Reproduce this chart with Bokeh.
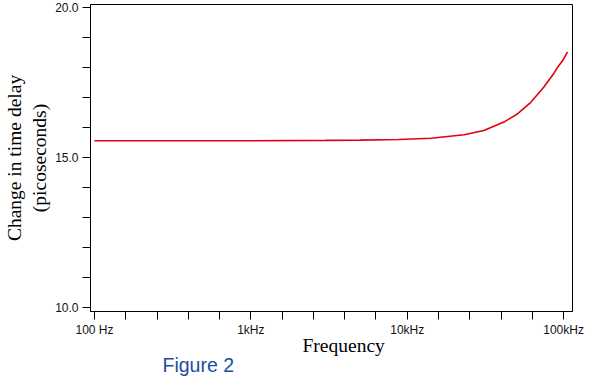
from bokeh.plotting import figure
from bokeh.models import Range1d, FixedTicker, NumeralTickFormatter, Title
from bokeh.embed import file_html
from bokeh.resources import INLINE

# ---- data ----
freq_hz = [100, 300, 1000, 3000, 5000, 8800, 14200, 23100, 30900, 41500,
           50900, 61700, 74600, 86300, 91600, 98600, 106000]
delay_ps = [15.56, 15.56, 15.56, 15.57, 15.58, 15.60, 15.64, 15.76, 15.90, 16.18,
            16.46, 16.84, 17.34, 17.79, 18.01, 18.23, 18.52]

x_major = [100, 1000, 10000, 100000]
x_labels = ["100 Hz", "1kHz", "10kHz", "100kHz"]
x_minor = [10 ** (2 + k / 5) for k in range(16) if k % 5 != 0]
y_major = [10, 15, 20]
y_minor = [11, 12, 13, 14, 16, 17, 18, 19]

W, H = 596, 382
p = figure(width=W, height=H, x_axis_type="log",
           x_range=Range1d(94.3, 114000), y_range=Range1d(9.867, 20.1),
           output_backend="svg", toolbar_location=None,
           min_border_left=88, min_border_right=24, min_border_top=4, min_border_bottom=71)
p.background_fill_color = "white"
p.border_fill_color = "white"
p.outline_line_color = "black"
p.outline_line_width = 1
p.xgrid.visible = False
p.ygrid.visible = False

p.line(freq_hz, delay_ps, line_color="#e00010", line_width=1.6)

for ax in (p.xaxis[0], p.yaxis[0]):
    ax.major_tick_out = 8
    ax.major_tick_in = 0
    ax.minor_tick_out = 8
    ax.minor_tick_in = 0
    ax.axis_line_color = "black"
    ax.major_tick_line_color = "black"
    ax.minor_tick_line_color = "black"
    ax.major_label_text_font = "Liberation Sans"
    ax.major_label_text_font_size = "12px"
    ax.major_label_text_color = "#111111"

p.xaxis.ticker = FixedTicker(ticks=x_major, minor_ticks=x_minor)
p.xaxis.major_label_overrides = {float(t): s for t, s in zip(x_major, x_labels)}
p.xaxis.major_label_standoff = 3
p.yaxis.ticker = FixedTicker(ticks=y_major, minor_ticks=y_minor)
p.yaxis.formatter = NumeralTickFormatter(format="0.0")
p.yaxis.major_label_standoff = 4

serif = "Liberation Serif"
p.yaxis.axis_label = "Change in time delay\n(picoseconds)"
p.yaxis.axis_label_text_font = serif
p.yaxis.axis_label_text_font_size = "19.5px"
p.yaxis.axis_label_text_font_style = "normal"
p.yaxis.axis_label_text_color = "black"
p.yaxis.axis_label_standoff = 2

t_freq = Title(text="Frequency", align="left", offset=212, standoff=-14,
               text_font=serif, text_font_size="19.5px", text_font_style="normal",
               text_color="black")
p.add_layout(t_freq, "below")
t_fig = Title(text="Figure 2", align="left", offset=72, standoff=6,
              text_font="Liberation Sans", text_font_size="19.5px",
              text_font_style="normal", text_color="#1b4f9c")
p.add_layout(t_fig, "below")

open("out.html", "w").write(file_html(p, INLINE))
